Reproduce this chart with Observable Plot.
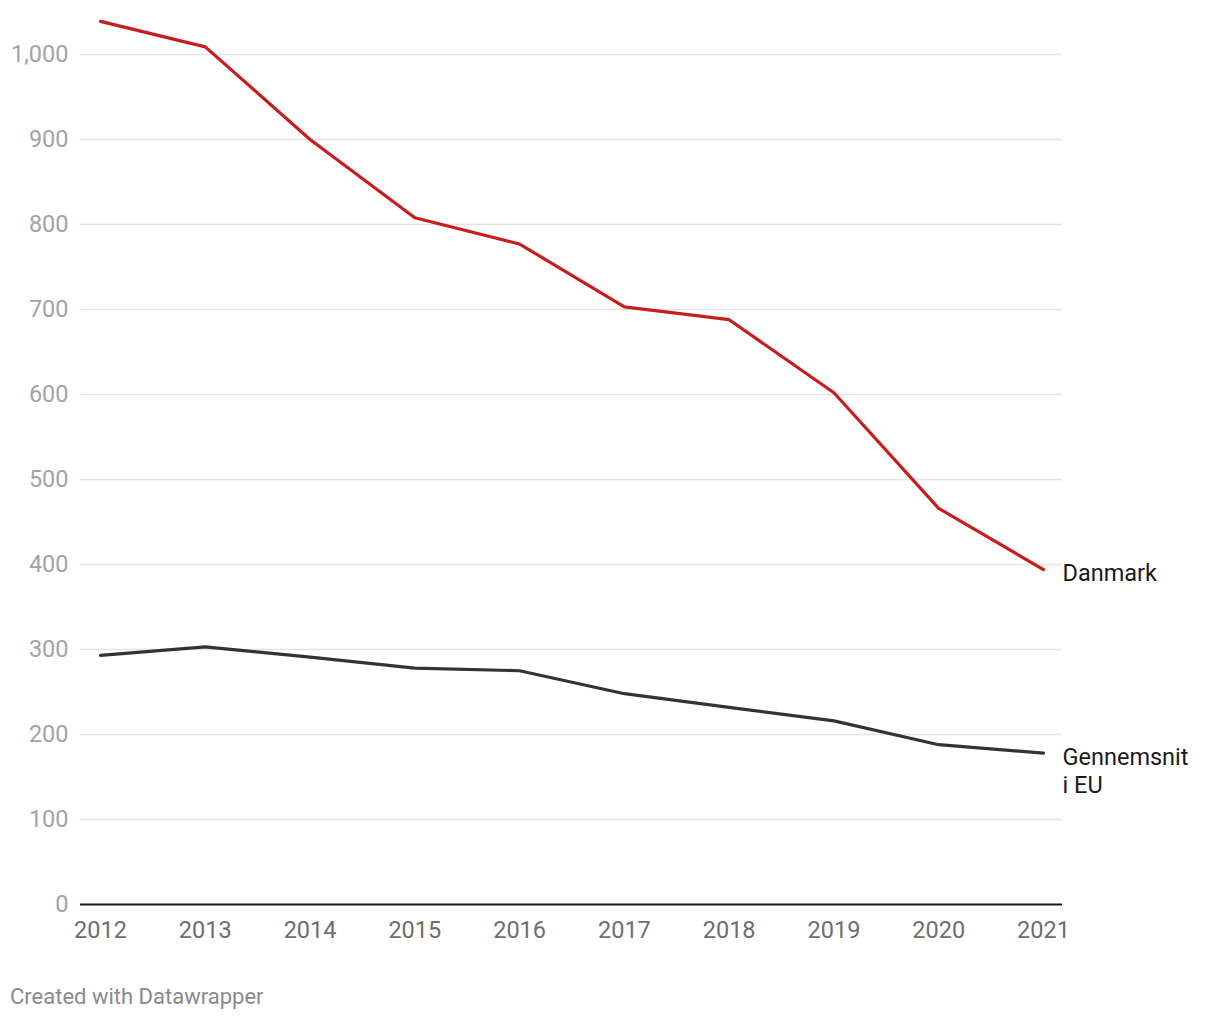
<!DOCTYPE html>
<html>
<head>
<meta charset="utf-8">
<script src="https://cdn.jsdelivr.net/npm/d3@7"></script>
<script src="https://cdn.jsdelivr.net/npm/@observablehq/plot@0.6"></script>
<style>
  html, body { margin: 0; padding: 0; background: #fff; }
  body { font-family: Roboto, sans-serif; }
  #chart svg { display: block; }
  .caption { position: absolute; left: 10px; top: 984px; font-size: 22px; color: #8a8a8a; font-family: Roboto, sans-serif; }
</style>
</head>
<body>
<div id="chart"></div>
<div class="caption">Created with Datawrapper</div>
<script>
const years = [2012, 2013, 2014, 2015, 2016, 2017, 2018, 2019, 2020, 2021];
const danmark = [1039, 1009, 900, 808, 777, 703, 688, 602, 466, 394];
const eu = [293, 303, 291, 278, 275, 248, 232, 216, 188, 178];
const seriesNames = ["Danmark", "Gennemsnit\ni EU"];
const seriesColors = ["#c71e1d", "#333333"];
const yTicks = [0, 100, 200, 300, 400, 500, 600, 700, 800, 900, 1000];

const data = [];
years.forEach((yr, i) => {
  data.push({year: yr, value: danmark[i], series: seriesNames[0]});
  data.push({year: yr, value: eu[i], series: seriesNames[1]});
});
const last = data.filter(d => d.year === years[years.length - 1]);

const chart = Plot.plot({
  width: 1220,
  height: 950,
  marginLeft: 100,
  marginRight: 177,
  marginTop: 54,
  marginBottom: 46,
  style: {fontFamily: "Roboto, sans-serif", fontSize: "20px", background: "#fff"},
  x: {domain: [years[0], years[years.length - 1]], axis: null},
  y: {domain: [0, 1000], axis: null},
  color: {domain: seriesNames, range: seriesColors},
  marks: [
    Plot.ruleY(yTicks.filter(t => t > 0), {stroke: "#e3e3e3", strokeWidth: 1.5, insetLeft: -20, insetRight: -19}),
    Plot.ruleY([0], {stroke: "#1a1a1a", strokeWidth: 2, insetLeft: -20, insetRight: -19}),
    Plot.text(yTicks, {x: years[0], y: d => d, text: d => d3.format(",")(d), textAnchor: "end", dx: -32, fill: "#a3a3a3", fontSize: 23.5}),
    Plot.text(years, {x: d => d, y: 0, text: d => String(d), dy: 26, fill: "#6e6e6e", fontSize: 23.5}),
    Plot.line(data, {x: "year", y: "value", z: "series", stroke: "series", strokeWidth: 3.2, strokeLinejoin: "round"}),
    Plot.text(last, {x: "year", y: "value", text: "series", textAnchor: "start", lineAnchor: "top", dx: 19, dy: -8, fill: "#1a1a1a", fontSize: 23.5, lineHeight: 1.19})
  ]
});
document.getElementById("chart").appendChild(chart);
</script>
</body>
</html>
